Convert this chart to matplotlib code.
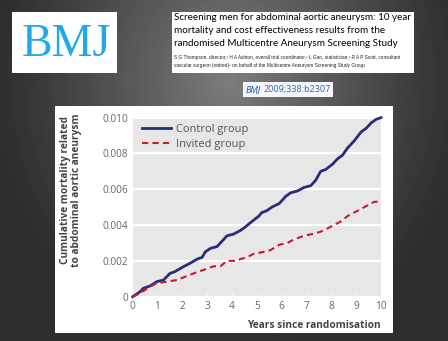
import matplotlib.pyplot as plt
import numpy as np
from matplotlib.patches import Rectangle

W, H = 448, 341

# cumulative AAA mortality, control vs invited group
control_years = [0, 0.3, 0.43, 0.7, 0.97, 1.24, 1.5, 1.7, 2.05, 2.3, 2.6, 2.8, 2.92, 3.13,
                 3.4, 3.53, 3.8, 4.07, 4.34, 4.54, 4.8, 5.08, 5.2, 5.4, 5.6, 5.9, 6.16, 6.36,
                 6.63, 6.9, 7.17, 7.37, 7.57, 7.77, 8.05, 8.25, 8.45, 8.65, 8.92, 9.2, 9.4,
                 9.6, 9.8, 10.0]
control_mort = [0, 0.00028, 0.00047, 0.0006, 0.00084, 0.00093, 0.0013, 0.0014, 0.00168,
                0.00186, 0.0021, 0.0022, 0.0025, 0.0027, 0.0028, 0.003, 0.0034, 0.0035,
                0.0037, 0.0039, 0.0042, 0.0045, 0.0047, 0.0048, 0.005, 0.0052, 0.0056,
                0.0058, 0.0059, 0.0061, 0.0062, 0.0065, 0.007, 0.0071, 0.0074, 0.0077,
                0.0079, 0.0083, 0.0087, 0.0092, 0.0094, 0.0097, 0.0099, 0.0100]
invited_years = [0, 0.3, 0.7, 0.97, 1.37, 1.78, 2.18, 2.45, 2.86, 3.26, 3.53, 3.8, 4.14,
                 4.34, 4.6, 4.88, 5.28, 5.55, 5.9, 6.23, 6.5, 6.9, 7.24, 7.5, 7.7, 8.1,
                 8.38, 8.65, 8.92, 9.2, 9.46, 9.73, 10.0]
invited_mort = [0, 0.0002, 0.00056, 0.00075, 0.00084, 0.00093, 0.00115, 0.0013, 0.0015,
                0.0017, 0.0017, 0.002, 0.002, 0.0021, 0.0022, 0.0024, 0.0025, 0.0026,
                0.0029, 0.003, 0.0032, 0.0034, 0.0035, 0.0036, 0.0037, 0.004, 0.0042,
                0.0045, 0.0047, 0.0049, 0.0051, 0.0053, 0.0053]

x_ticks = list(range(11))
y_ticks = [0, 0.002, 0.004, 0.006, 0.008, 0.010]
y_labels = ['0', '0.002', '0.004', '0.006', '0.008', '0.010']

title_lines = ['Screening men for abdominal aortic aneurysm: 10 year',
               'mortality and cost effectiveness results from the',
               'randomised Multicentre Aneurysm Screening Study']
author_lines = ['S G Thompson, director,\u00b9 H A Ashton, overall trial coordinator,\u00b2 '
                'L Gao, statistician,\u00b9 R A P Scott, consultant',
                'vascular surgeon (retired)\u00b2 on behalf of the Multicentre Aneurysm '
                'Screening Study Group']

FONT = 'Open Sans'


def fx(px):
    return px / W


def fy(py):
    return 1 - py / H


def box(fig, x0, y0, x1, y1, color='white'):
    fig.patches.append(Rectangle((fx(x0), fy(y1)), (x1 - x0) / W, (y1 - y0) / H,
                                 transform=fig.transFigure, facecolor=color,
                                 edgecolor='none', zorder=1))


fig = plt.figure(figsize=(W / 100, H / 100), dpi=100)

# dark slide background with a soft light spot near the top
bg = fig.add_axes([0, 0, 1, 1], zorder=0)
yy, xx = np.mgrid[0:H, 0:W]
d = np.sqrt(((xx - 230) / 235.0) ** 2 + ((yy - 80) / 270.0) ** 2)
v = 0.18 + (0.49 - 0.18) * np.clip(1 - d, 0, 1) ** 1.1
bg.imshow(v, cmap='gray', vmin=0, vmax=1, aspect='auto', extent=[0, W, H, 0])
bg.axis('off')

# logo, header and citation boxes
box(fig, 12, 12, 117, 73)
fig.text(fx(66), fy(45), 'BMJ', family='Liberation Serif', fontsize=33,
         color='#1fa9e6', ha='center', va='center')

box(fig, 172, 12, 414, 73)
for i, line in enumerate(title_lines):
    fig.text(fx(174), fy(17 + i * 13.5), line, family='Lato', fontsize=7.15,
             color='black', ha='left', va='center')
for i, line in enumerate(author_lines):
    fig.text(fx(174), fy(58 + i * 8), line, family='Liberation Sans',
             fontsize=3.4, color='#222222', ha='left', va='center')

box(fig, 243, 82, 333, 97, color='#f4f6fa')
cite_bmj = fig.text(fx(246), fy(89.5), 'BMJ', family=FONT, style='italic', fontsize=6.5,
                    color='#1d4f9a', ha='left', va='center')
fig.canvas.draw()
bmj_right = cite_bmj.get_window_extent().x1
fig.text((bmj_right + 2) / W, fy(89.5), '2009;338:b2307', family=FONT, fontsize=6.5,
         color='#3366aa', ha='left', va='center')

# white panel holding the chart
box(fig, 55, 106, 393, 333)

ax = fig.add_axes([fx(132.7), fy(296.7), (381 - 132.7) / W, (296.7 - 117.6) / H], zorder=2)
ax.set_facecolor('#e7e7e7')
for s in ax.spines.values():
    s.set_visible(False)
ax.set_xlim(0, 10)
ax.set_ylim(0, 0.010)
ax.set_yticks(y_ticks)
ax.set_yticklabels(y_labels)
ax.set_xticks(x_ticks)
ax.grid(axis='y', color='white', linewidth=1.6)
ax.set_axisbelow(True)
ax.tick_params(axis='y', length=0, pad=3, labelsize=7.3, labelcolor='#666666')
ax.tick_params(axis='x', length=2.5, width=0.8, color='white', direction='in',
               pad=3, labelsize=7.3, labelcolor='#666666')
for lab in ax.get_xticklabels() + ax.get_yticklabels():
    lab.set_family(FONT)

ax.plot(control_years, control_mort, color='#2b2c7c', linewidth=2.0,
        label='Control group', clip_on=False, zorder=3)
ax.plot(invited_years, invited_mort, color='#c81a30', linewidth=1.5,
        dashes=(3, 2), label='Invited group', clip_on=False, zorder=3)

leg = ax.legend(loc='upper left', bbox_to_anchor=(0.01, 1.0), frameon=False,
                handlelength=2.6, handletextpad=0.45, labelspacing=0.35,
                borderaxespad=0.2, prop={'family': FONT, 'size': 8})
for t in leg.get_texts():
    t.set_color('#555555')

fig.text(fx(71), fy(190), 'Cumulative mortality related\nto abdominal aortic aneurysm',
         family=FONT, weight='bold', fontsize=7.3, color='#444444', rotation=90,
         ha='center', va='center', linespacing=1.1)
fig.text(fx(381), fy(325), 'Years since randomisation', family=FONT, weight='bold',
         fontsize=7.3, color='#444444', ha='right', va='center')

fig.savefig('out.png', dpi=100)
